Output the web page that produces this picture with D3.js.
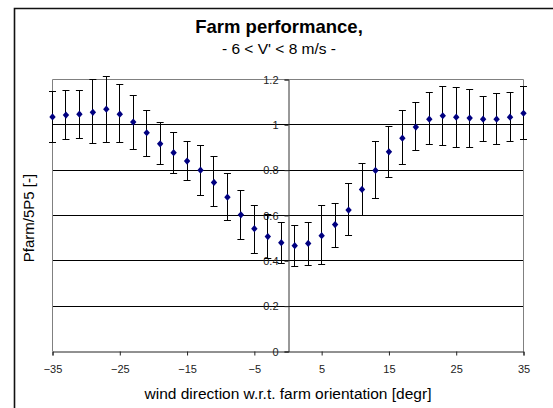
<!DOCTYPE html>
<html>
<head>
<meta charset="utf-8">
<script src="https://cdn.jsdelivr.net/npm/d3@7"></script>
<style>
  body { margin: 0; background: #fff; }
  svg { display: block; font-family: Arial, 'Liberation Sans', sans-serif; }
</style>
</head>
<body>
<svg id="chart"></svg>
<script>
var WIDTH = 553;
var HEIGHT = 408;

// wind direction bins [degr]
var angles = [-35, -33, -31, -29, -27, -25, -23, -21, -19, -17, -15, -13, -11, -9, -7, -5, -3, -1,
  1, 3, 5, 7, 9, 11, 13, 15, 17, 19, 21, 23, 25, 27, 29, 31, 33, 35];

// mean Pfarm/5P5
var means = [1.035, 1.043, 1.047, 1.055, 1.069, 1.047, 1.012, 0.965, 0.916, 0.877, 0.840, 0.800,
  0.746, 0.681, 0.603, 0.542, 0.507, 0.480, 0.467, 0.477, 0.511, 0.560, 0.624, 0.715,
  0.799, 0.881, 0.941, 0.990, 1.025, 1.040, 1.034, 1.030, 1.025, 1.025, 1.034, 1.051];

// error bar ends
var upper = [1.145, 1.150, 1.150, 1.198, 1.215, 1.178, 1.131, 1.065, 1.009, 0.966, 0.927, 0.907,
  0.859, 0.784, 0.710, 0.645, 0.605, 0.568, 0.555, 0.568, 0.642, 0.654, 0.742, 0.828,
  0.927, 0.994, 1.065, 1.099, 1.143, 1.169, 1.165, 1.154, 1.125, 1.138, 1.143, 1.169];
var lower = [0.922, 0.934, 0.938, 0.916, 0.922, 0.922, 0.892, 0.861, 0.826, 0.787, 0.756, 0.690,
  0.639, 0.576, 0.493, 0.433, 0.411, 0.389, 0.375, 0.381, 0.386, 0.458, 0.511, 0.602,
  0.673, 0.768, 0.826, 0.887, 0.912, 0.907, 0.899, 0.899, 0.927, 0.912, 0.927, 0.934];

var xTicks = [-35, -25, -15, -5, 5, 15, 25, 35];
var yTicks = [0, 0.2, 0.4, 0.6, 0.8, 1, 1.2];

var points = angles.map(function(a, i) {
  return { angle: a, mean: means[i], hi: upper[i], lo: lower[i] };
});

var svg = d3.select('#chart')
  .attr('width', WIDTH)
  .attr('height', HEIGHT);

// outer chart frame (runs off the right and bottom edge)
svg.append('path')
  .attr('d', 'M14.5,' + (HEIGHT + 5) + 'V8.5H' + (WIDTH + 5))
  .attr('fill', 'none')
  .attr('stroke', '#111')
  .attr('stroke-width', 1.6);

var plot = { left: 52.5, right: 523.5, top: 79.5, bottom: 351.5 };

var xScale = d3.scaleLinear().domain([-35, 35]).range([plot.left, plot.right]);
var yScale = d3.scaleLinear().domain([0, 1.2]).range([plot.bottom, plot.top]);

function snap(v) { return Math.round(v - 0.5) + 0.5; }

// gridlines
svg.append('g')
  .selectAll('line')
  .data(yTicks.filter(function(d) { return d > 0 && d < 1.2; }))
  .enter()
  .append('line')
  .attr('x1', plot.left)
  .attr('x2', plot.right)
  .attr('y1', function(d) { return snap(yScale(d)); })
  .attr('y2', function(d) { return snap(yScale(d)); })
  .attr('stroke', '#000')
  .attr('stroke-width', 1);

// plot area border (grey)
svg.append('path')
  .attr('d', 'M' + plot.left + ',' + plot.bottom + 'V' + plot.top + 'H' + plot.right + 'V' + plot.bottom)
  .attr('fill', 'none')
  .attr('stroke', '#808080')
  .attr('stroke-width', 1);

// y axis sits at x = 0
var leftAxis = d3.axisLeft(yScale)
  .tickValues(yTicks)
  .tickFormat(d3.format('~g'))
  .tickSize(4)
  .tickPadding(6);
var yAxisG = svg.append('g')
  .attr('transform', 'translate(' + snap(xScale(0)) + ',0)')
  .call(leftAxis);
yAxisG.select('.domain').attr('stroke', '#333');
yAxisG.selectAll('.tick line').attr('stroke', '#333');
yAxisG.selectAll('.tick text')
  .attr('font-size', 11)
  .attr('font-family', 'Arial, Liberation Sans, sans-serif')
  .attr('fill', '#222');

// x axis at the bottom
var bottomAxis = d3.axisBottom(xScale)
  .tickValues(xTicks)
  .tickSize(4)
  .tickPadding(10);
var xAxisG = svg.append('g')
  .attr('transform', 'translate(0,' + plot.bottom + ')')
  .call(bottomAxis);
xAxisG.select('.domain').attr('stroke', '#222');
xAxisG.selectAll('.tick line').attr('stroke', '#222');
xAxisG.selectAll('.tick text')
  .attr('font-size', 11)
  .attr('font-family', 'Arial, Liberation Sans, sans-serif')
  .attr('fill', '#222');

// error bars
var bars = svg.append('g')
  .selectAll('g')
  .data(points)
  .enter()
  .append('g')
  .attr('stroke', '#000')
  .attr('stroke-width', 1);
bars.append('line')
  .attr('x1', function(d) { return snap(xScale(d.angle)); })
  .attr('x2', function(d) { return snap(xScale(d.angle)); })
  .attr('y1', function(d) { return yScale(d.hi); })
  .attr('y2', function(d) { return yScale(d.lo); });
bars.append('line')
  .attr('x1', function(d) { return xScale(d.angle) - 3.5; })
  .attr('x2', function(d) { return xScale(d.angle) + 3.5; })
  .attr('y1', function(d) { return snap(yScale(d.hi)); })
  .attr('y2', function(d) { return snap(yScale(d.hi)); });
bars.append('line')
  .attr('x1', function(d) { return xScale(d.angle) - 3.5; })
  .attr('x2', function(d) { return xScale(d.angle) + 3.5; })
  .attr('y1', function(d) { return snap(yScale(d.lo)); })
  .attr('y2', function(d) { return snap(yScale(d.lo)); });

// diamond markers
svg.append('g')
  .selectAll('path')
  .data(points)
  .enter()
  .append('path')
  .attr('d', function(d) {
    var x = xScale(d.angle);
    var y = yScale(d.mean);
    return 'M' + x + ',' + (y - 3.6) + 'L' + (x + 3.2) + ',' + y + 'L' + x + ',' + (y + 3.6) + 'L' + (x - 3.2) + ',' + y + 'Z';
  })
  .attr('fill', '#000080');

// titles
svg.append('text')
  .attr('x', 279)
  .attr('y', 33)
  .attr('text-anchor', 'middle')
  .attr('font-size', 18.5)
  .attr('font-weight', 'bold')
  .text('Farm performance,');
svg.append('text')
  .attr('x', 279)
  .attr('y', 54)
  .attr('text-anchor', 'middle')
  .attr('font-size', 15.5)
  .text("- 6 < V' < 8 m/s -");

svg.append('text')
  .attr('transform', 'translate(33.5,' + 218 + ') rotate(-90)')
  .attr('text-anchor', 'middle')
  .attr('font-size', 15)
  .text('Pfarm/5P5 [-]');

svg.append('text')
  .attr('x', 288)
  .attr('y', 399)
  .attr('text-anchor', 'middle')
  .attr('font-size', 15.5)
  .text('wind direction w.r.t. farm orientation [degr]');
</script>
</body>
</html>
